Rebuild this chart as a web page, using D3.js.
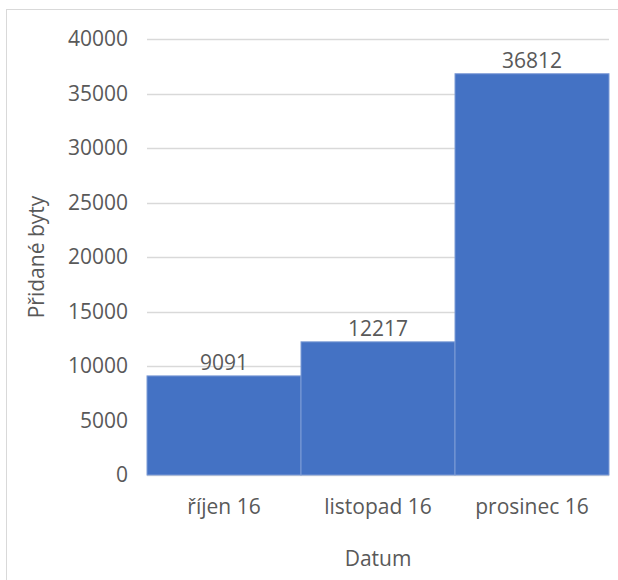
<!DOCTYPE html>
<html>
<head>
<meta charset="utf-8">
<script src="https://cdn.jsdelivr.net/npm/d3@7"></script>
<style>
  body { margin: 0; background: #fff; }
  svg { display: block; font-family: "Open Sans", sans-serif; }
</style>
</head>
<body>
<div id="chart"></div>
<script>
// monthly added dwellings, one bar per month, bars touching each other

const months = ['říjen 16', 'listopad 16', 'prosinec 16'];
const added = [9091, 12217, 36812];
const yTicks = [0, 5000, 10000, 15000, 20000, 25000, 30000, 35000, 40000];

const W = 618, H = 580;
const margin = { top: 39, right: 9, bottom: 105, left: 147 };
const TEXT = '#595959';
const FS = '21px';

const svg = d3.select('#chart').append('svg')
  .attr('width', W)
  .attr('height', H);

// outer chart frame (runs off the right and bottom of the picture)
svg.append('rect')
  .attr('x', 6.5).attr('y', 9.5)
  .attr('width', W + 10).attr('height', H + 10)
  .attr('fill', 'none')
  .attr('stroke', '#d9d9d9');

const x = d3.scaleBand()
  .domain(months)
  .range([margin.left, W - margin.right])
  .padding(0);

const y = d3.scaleLinear()
  .domain([0, 40000])
  .range([H - margin.bottom, margin.top]);

// gridlines
svg.append('g')
  .selectAll('line')
  .data(yTicks)
  .enter()
  .append('line')
  .attr('x1', margin.left)
  .attr('x2', W - margin.right)
  .attr('y1', d => Math.round(y(d)) + 0.5)
  .attr('y2', d => Math.round(y(d)) + 0.5)
  .attr('stroke', '#d9d9d9')
  .attr('stroke-width', 1.3);

// y axis labels
const yAxis = svg.append('g')
  .attr('transform', `translate(${margin.left},0)`)
  .call(d3.axisLeft(y).tickValues(yTicks).tickSize(0).tickPadding(19).tickFormat(d3.format('d')));
yAxis.select('.domain').remove();
yAxis.selectAll('text')
  .attr('fill', TEXT)
  .style('font-size', FS)
  .style('font-family', '"Open Sans", sans-serif');

// bars
svg.append('g')
  .selectAll('rect')
  .data(added)
  .enter()
  .append('rect')
  .attr('x', (d, i) => x(months[i]))
  .attr('y', d => y(d))
  .attr('width', x.bandwidth())
  .attr('height', d => y(0) - y(d))
  .attr('fill', '#4472c4')
  .attr('stroke', '#7d9bd6')
  .attr('stroke-width', 1);

// value labels
svg.append('g')
  .selectAll('text')
  .data(added)
  .enter()
  .append('text')
  .attr('x', (d, i) => x(months[i]) + x.bandwidth() / 2)
  .attr('y', d => y(d) - 6)
  .attr('text-anchor', 'middle')
  .attr('fill', TEXT)
  .style('font-size', FS)
  .text(d => d);

// x axis labels
const xAxis = svg.append('g')
  .attr('transform', `translate(0,${H - margin.bottom})`)
  .call(d3.axisBottom(x).tickSize(0).tickPadding(24));
xAxis.select('.domain').remove();
xAxis.selectAll('text')
  .attr('fill', TEXT)
  .style('font-size', FS)
  .style('font-family', '"Open Sans", sans-serif');

// axis titles
svg.append('text')
  .attr('x', (margin.left + W - margin.right) / 2)
  .attr('y', 566)
  .attr('text-anchor', 'middle')
  .attr('fill', TEXT)
  .style('font-size', FS)
  .text('Datum');

svg.append('text')
  .attr('transform', 'translate(44,257) rotate(-90)')
  .attr('text-anchor', 'middle')
  .attr('fill', TEXT)
  .style('font-size', FS)
  .text('Přidané byty');
</script>
</body>
</html>
